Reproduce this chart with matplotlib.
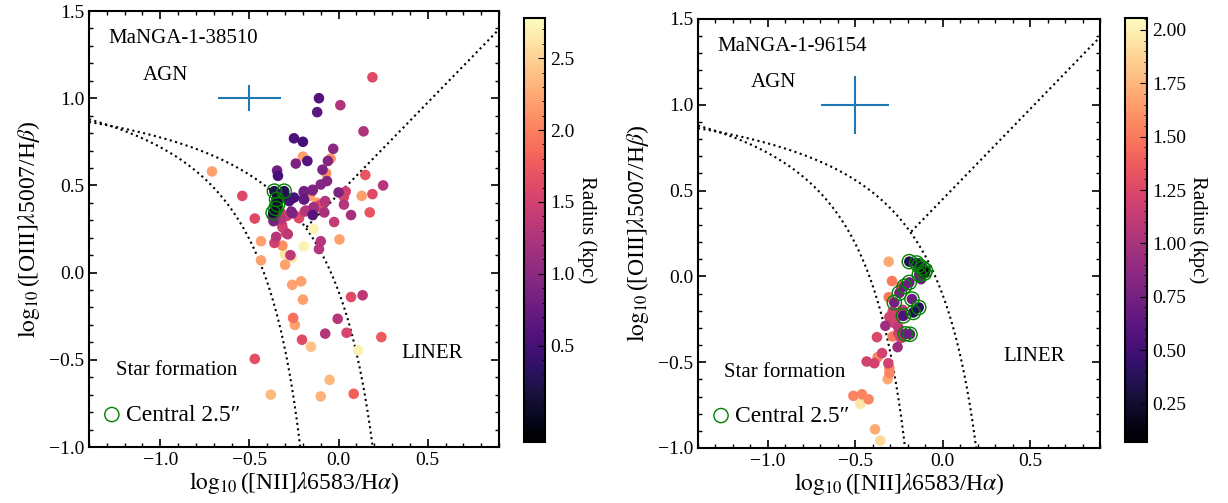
import numpy as np
import matplotlib
matplotlib.use('Agg')
import matplotlib.pyplot as plt
from matplotlib.ticker import AutoMinorLocator

plt.rcParams['font.family'] = ['Liberation Serif', 'DejaVu Serif']
plt.rcParams['mathtext.fontset'] = 'stix'
plt.rcParams['axes.linewidth'] = 1.5

# ---- MaNGA-1-38510 : all spaxels (x = log NII/Ha, y = log OIII/Hb, r = radius kpc)
x1 = [0.19, -0.11, -0.12, 0.01, 0.14, -0.25, -0.20, -0.03, -0.20, -0.24, -0.175, -0.045,
      -0.06, -0.71, -0.345, -0.34, -0.09, -0.07, -0.065, -0.10, 0.15, 0.25, 0.19, 0.13,
      0.04, 0.0, 0.03, 0.03, 0.07, 0.175, -0.025, -0.145, -0.195, -0.16, -0.195, -0.25,
      -0.27, -0.14, -0.10, -0.12, -0.075, -0.08, -0.145, -0.19, -0.225, -0.265, -0.29,
      -0.325, -0.365, -0.47, -0.54, -0.14, -0.10, 0.005, -0.285, -0.315, -0.35, -0.435,
      -0.195, -0.315, -0.36, -0.11, -0.435, -0.30, -0.26, -0.27, -0.30, -0.26, -0.21,
      -0.20, 0.07, 0.135, -0.255, -0.245, -0.005, -0.075, 0.045, 0.24, -0.205, -0.155,
      0.11, -0.47, -0.05, -0.38, -0.10, 0.085,
      -0.277, -0.194, -0.147, -0.194, -0.138, -0.183, -0.222, -0.259, -0.324, -0.315,
      -0.318, -0.296, -0.076, -0.119, -0.30, -0.32, -0.37]
y1 = [1.12, 1.00, 0.92, 0.96, 0.81, 0.77, 0.75, 0.71, 0.665, 0.625, 0.64, 0.653,
      0.64, 0.58, 0.585, 0.555, 0.59, 0.57, 0.525, 0.505, 0.56, 0.50, 0.45, 0.44,
      0.465, 0.46, 0.435, 0.39, 0.33, 0.345, 0.29, 0.475, 0.46, 0.44, 0.42, 0.43,
      0.42, 0.375, 0.39, 0.40, 0.41, 0.345, 0.33, 0.35, 0.32, 0.35, 0.325,
      0.305, 0.295, 0.31, 0.44, 0.25, 0.18, 0.19, 0.22, 0.26, 0.205, 0.18,
      0.15, 0.155, 0.17, 0.135, 0.07, 0.105, 0.085, 0.10, 0.045, -0.07, -0.05,
      -0.155, -0.14, -0.13, -0.26, -0.30, -0.265, -0.35, -0.345, -0.37, -0.385, -0.425,
      -0.445, -0.495, -0.615, -0.70, -0.71, -0.695,
      0.41, 0.467, 0.47, 0.42, 0.363, 0.356, 0.312, 0.34, 0.343, 0.314,
      0.275, 0.228, 0.405, 0.38, 0.44, 0.43, 0.32]
r1 = [1.6, 0.6, 0.65, 1.25, 1.25, 0.55, 0.5, 1.0, 2.2, 0.9, 0.6, 2.1,
      0.95, 2.2, 0.8, 0.5, 0.9, 2.1, 0.95, 0.95, 1.7, 1.3, 1.6, 2.2,
      1.5, 0.9, 1.55, 1.3, 1.2, 1.7, 1.4, 0.9, 0.8, 2.2, 0.7, 0.5,
      0.55, 1.15, 1.6, 2.2, 1.3, 1.2, 0.6, 1.4, 1.6, 0.9, 1.45,
      1.3, 0.9, 1.6, 1.6, 2.7, 1.3, 2.2, 1.35, 1.5, 1.3, 2.2,
      2.7, 2.1, 1.5, 1.3, 2.2, 2.6, 2.65, 1.35, 2.2, 2.2, 2.2,
      2.2, 1.6, 1.35, 1.9, 2.2, 1.3, 1.3, 1.55, 1.75, 1.6, 2.4,
      2.7, 1.65, 2.35, 2.35, 2.3, 1.8,
      0.55, 0.85, 1.2, 0.8, 1.3, 1.3, 1.6, 0.9, 1.45, 1.5,
      1.5, 1.6, 1.4, 1.6, 0.4, 0.5, 0.9]
# central 2.5" spaxels
xc1 = [-0.36, -0.305, -0.348, -0.343, -0.352, -0.367]
yc1 = [0.467, 0.467, 0.42, 0.39, 0.368, 0.343]
rc1 = [0.2, 0.25, 0.1, 0.08, 0.05, 0.15]

# ---- MaNGA-1-96154
x2 = [-0.309, -0.290, -0.309, -0.239, -0.286, -0.305, -0.258, -0.229, -0.277, -0.328,
      -0.254, -0.286, -0.376, -0.239, -0.254, -0.258, -0.347, -0.372, -0.435, -0.391,
      -0.311, -0.305, -0.305, -0.315, -0.511, -0.462, -0.424, -0.471, -0.387, -0.357,
      -0.124]
y2 = [0.086, -0.027, -0.121, -0.058, -0.204, -0.237, -0.233, -0.195, -0.272, -0.288,
      -0.296, -0.350, -0.354, -0.360, -0.331, -0.412, -0.447, -0.471, -0.496, -0.506,
      -0.506, -0.535, -0.564, -0.599, -0.696, -0.687, -0.716, -0.743, -0.891, -0.957,
      -0.016]
r2 = [1.7, 1.5, 1.5, 1.5, 1.2, 1.2, 1.2, 1.1, 1.2, 0.95,
      1.1, 1.5, 1.25, 1.2, 1.2, 0.95, 1.2, 1.55, 1.2, 1.2,
      1.2, 1.55, 1.55, 1.7, 1.55, 1.55, 1.55, 1.95, 1.7, 1.9,
      0.7]
xc2 = [-0.191, -0.149, -0.137, -0.115, -0.099, -0.105, -0.134, -0.191, -0.219, -0.248,
       -0.277, -0.176, -0.137, -0.168, -0.225, -0.214, -0.187]
yc2 = [0.086, 0.078, 0.062, 0.049, 0.035, 0.019, 0.010, -0.035, -0.058, -0.097,
       -0.152, -0.132, -0.181, -0.210, -0.230, -0.335, -0.337]
rc2 = [0.35, 0.4, 0.35, 0.3, 0.2, 0.15, 0.7, 0.7, 0.7, 0.75,
       0.75, 0.7, 0.4, 0.35, 0.55, 0.7, 0.7]

names = ['MaNGA-1-38510', 'MaNGA-1-96154']
err_x = [0.175, 0.195]
err_y = [0.075, 0.17]
r_lim = [(-0.17, 2.78), (0.07, 2.056)]
cb_ticks = [[0.5, 1.0, 1.5, 2.0, 2.5],
            [0.25, 0.5, 0.75, 1.0, 1.25, 1.5, 1.75, 2.0]]


def draw_bpt(ax, cax, x, y, r, xc, yc, rc, name, ex, ey, rlim, ticks, fmt):
    xx = np.linspace(-1.4, 0.46, 500)
    ax.plot(xx, 0.61 / (xx - 0.47) + 1.19, 'k:', lw=1.5)
    xk = np.linspace(-1.4, 0.04, 500)
    ax.plot(xk, 0.61 / (xk - 0.05) + 1.3, 'k:', lw=1.5)
    xs = np.linspace(-0.18, 0.9, 100)
    ax.plot(xs, 1.05 * xs + 0.45, 'k:', lw=1.5)

    allx = np.concatenate([x, xc])
    ally = np.concatenate([y, yc])
    allr = np.concatenate([r, rc])
    order = np.argsort(-allr)
    sc = ax.scatter(allx[order], ally[order], c=allr[order], cmap='magma',
                    vmin=rlim[0], vmax=rlim[1], s=58, edgecolors='none', zorder=3)
    ax.scatter(xc, yc, s=105, facecolors='none', edgecolors='green', lw=1.0, zorder=4,
               label='Central 2.5\u2033')
    ax.errorbar(-0.5, 1.0, xerr=ex, yerr=ey, color='C0', lw=1.5, zorder=5)

    ax.text(-1.29, 1.34, name, fontsize=15, va='center')
    ax.text(-1.1, 1.13, 'AGN', fontsize=15, va='center')
    ax.text(-1.25, -0.56, 'Star formation', fontsize=15, va='center')
    ax.text(0.35, -0.465, 'LINER', fontsize=15, va='center')
    ax.legend(loc='lower left', bbox_to_anchor=(-0.022, 0.0), frameon=False,
              fontsize=17, handletextpad=0.15, handlelength=0.9,
              borderaxespad=0.6, borderpad=0.3)

    ax.set_xlim(-1.4, 0.9)
    ax.set_ylim(-1.0, 1.5)
    ax.set_xticks([-1.0, -0.5, 0.0, 0.5])
    ax.set_yticks([-1.0, -0.5, 0.0, 0.5, 1.0, 1.5])
    ax.xaxis.set_minor_locator(AutoMinorLocator())
    ax.yaxis.set_minor_locator(AutoMinorLocator())
    ax.tick_params(which='both', direction='in', top=True, right=True, labelsize=14)
    ax.tick_params(which='major', length=6, width=1.2)
    ax.tick_params(which='minor', length=3, width=1.0)
    ax.set_xlabel(r'$\log_{10}$([NII]$\lambda$6583/H$\alpha$)', fontsize=17, labelpad=1)
    ax.set_ylabel(r'$\log_{10}$([OIII]$\lambda$5007/H$\beta$)', fontsize=17, labelpad=5)

    cb = plt.colorbar(sc, cax=cax, ticks=ticks, format=fmt)
    cb.ax.minorticks_on()
    cb.ax.tick_params(which='both', direction='in', labelsize=14)
    cb.ax.tick_params(which='major', length=5)
    cb.set_label('Radius (kpc)', rotation=270, fontsize=15, labelpad=16)


fig = plt.figure(figsize=(12.28, 5.03), dpi=100)
W, H = 1228.0, 503.0
ax1 = fig.add_axes([89 / W, (H - 447) / H, 410 / W, 436 / H])
cax1 = fig.add_axes([524 / W, (H - 442) / H, 21 / W, 424 / H])
ax2 = fig.add_axes([698 / W, (H - 448) / H, 402 / W, 429 / H])
cax2 = fig.add_axes([1125 / W, (H - 442) / H, 22 / W, 424 / H])

draw_bpt(ax1, cax1, x1, y1, r1, xc1, yc1, rc1, names[0], err_x[0], err_y[0],
         r_lim[0], cb_ticks[0], '%.1f')
draw_bpt(ax2, cax2, x2, y2, r2, xc2, yc2, rc2, names[1], err_x[1], err_y[1],
         r_lim[1], cb_ticks[1], '%.2f')

fig.savefig('out.png', dpi=100)
